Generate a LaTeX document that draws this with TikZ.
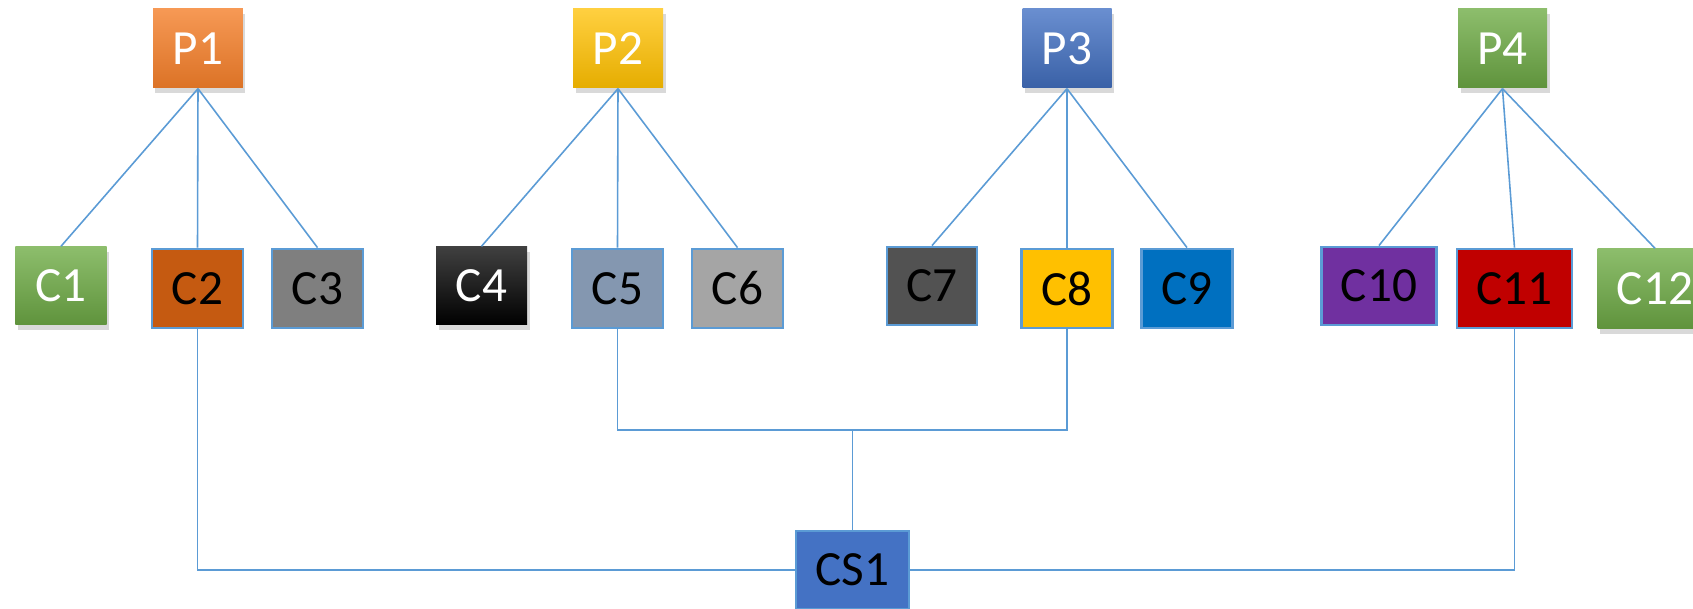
\documentclass[tikz,border=0pt]{standalone}
\usepackage{fontspec}
\setmainfont{Carlito}
\usetikzlibrary{positioning, shadows}

\definecolor{linkblue}{HTML}{5B9BD5}
\definecolor{offorange}{HTML}{F47F2A}
\definecolor{offgold}{HTML}{FFC000}
\definecolor{offblue}{HTML}{4472C4}
\definecolor{offgreen}{HTML}{70AD47}
\definecolor{rustc}{HTML}{C55A11}
\definecolor{grayc}{HTML}{7F7F7F}
\definecolor{slatec}{HTML}{8497B0}
\definecolor{lgrayc}{HTML}{A5A5A5}
\definecolor{dgrayc}{HTML}{525252}
\definecolor{bluec}{HTML}{0070C0}
\definecolor{purplec}{HTML}{7030A0}
\definecolor{redc}{HTML}{C00000}

\tikzset{
    box/.style={rectangle, minimum width=0.91cm, minimum height=0.79cm, inner sep=0pt,
        font=\fontsize{14}{16}\selectfont},
    parent/.style={box, text=white,
        drop shadow={shadow xshift=0.025cm, shadow yshift=-0.05cm, opacity=0.3}},
    child/.style={box, draw=linkblue, line width=0.8pt, text=black},
    link/.style={draw=linkblue, line width=0.45pt}
}

\begin{document}
\begin{tikzpicture}

    \useasboundingbox (0,0) rectangle (16.93,6.09);

    %parents
    \node[parent, minimum width=0.90cm, top color=offorange!80!white, middle color=offorange, bottom color=offorange!90!black] (P1) at (1.98,5.605) {P1};
    \node[parent, minimum width=0.90cm, top color=offgold!75!white, middle color=offgold, bottom color=offgold!90!black] (P2) at (6.18,5.605) {P2};
    \node[parent, minimum width=0.89cm, top color=offblue!80!white, middle color=offblue, bottom color=offblue!85!black] (P3) at (10.67,5.605) {P3};
    \node[parent, minimum width=0.89cm, top color=offgreen!80!white, middle color=offgreen, bottom color=offgreen!85!black] (P4) at (15.025,5.605) {P4};

    %children
    \node[parent, minimum height=0.78cm, top color=offgreen!80!white, middle color=offgreen, bottom color=offgreen!85!black] (C1) at (0.61,3.23) {C1};
    \node[child, fill=rustc] (C2) at (1.975,3.205) {C2};
    \node[child, fill=grayc] (C3) at (3.175,3.205) {C3};

    \node[parent, minimum height=0.78cm, top color=black!75, middle color=black, bottom color=black] (C4) at (4.815,3.23) {C4};
    \node[child, fill=slatec] (C5) at (6.175,3.205) {C5};
    \node[child, fill=lgrayc] (C6) at (7.375,3.205) {C6};

    \node[child, minimum width=0.90cm, minimum height=0.78cm, fill=dgrayc] (C7) at (9.32,3.23) {C7};
    \node[child, fill=offgold] (C8) at (10.67,3.205) {C8};
    \node[child, fill=bluec] (C9) at (11.87,3.205) {C9};

    \node[child, minimum width=1.15cm, minimum height=0.78cm, fill=purplec] (C10) at (13.79,3.23) {C10};
    \node[child, minimum width=1.15cm, fill=redc] (C11) at (15.145,3.205) {C11};
    \node[parent, minimum width=1.15cm, minimum height=0.80cm, top color=offgreen!80!white, middle color=offgreen, bottom color=offgreen!85!black] (C12) at (16.55,3.20) {C12};

    %shared node
    \node[child, minimum width=1.13cm, minimum height=0.78cm, fill=offblue] (CS1) at (8.525,0.39) {CS1};

    %lines
    \foreach \p/\c in {P1/C1, P1/C2, P1/C3, P2/C4, P2/C5, P2/C6, P3/C7, P3/C8, P3/C9, P4/C10, P4/C11, P4/C12}
        \draw[link] (\p.south) -- (\c.north);

    \coordinate (bus) at (8.525,1.79);
    \draw[link] (C5.south) |- (bus) -| (C8.south);
    \draw[link] (bus) -- (CS1.north);
    \draw[link] (C2.south) |- (CS1.west);
    \draw[link] (C11.south) |- (CS1.east);

\end{tikzpicture}
\end{document}
